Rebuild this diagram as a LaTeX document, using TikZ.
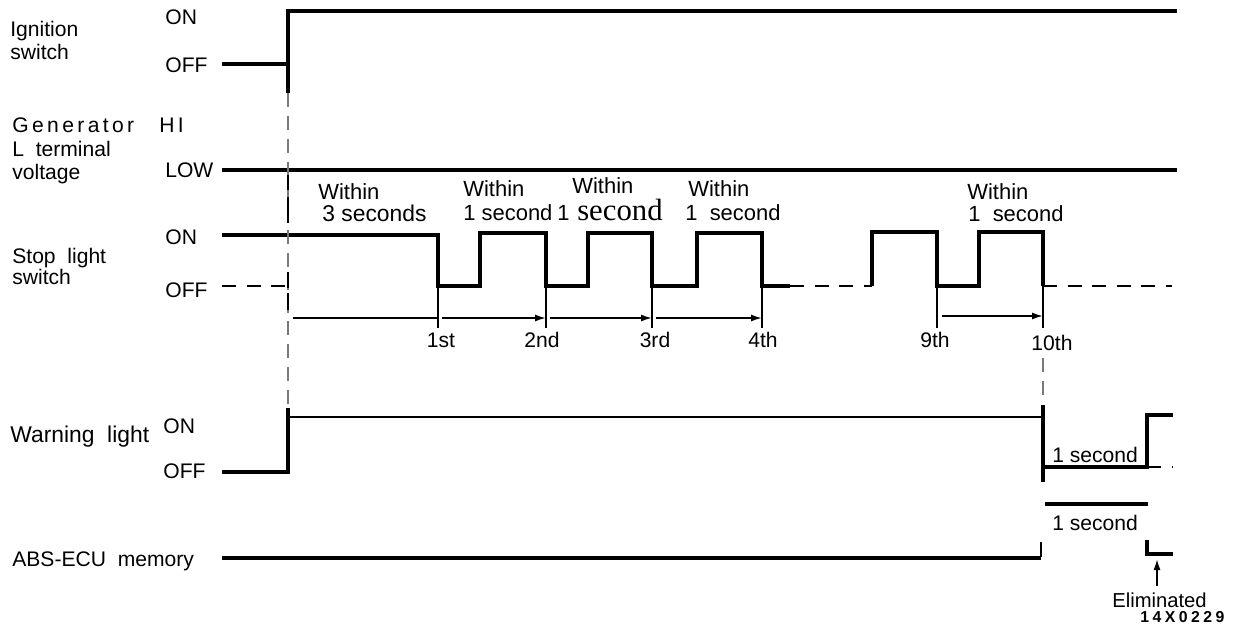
\documentclass[tikz,border=0pt]{standalone}
\usepackage{fontspec}
\setmainfont{Liberation Sans}
\newfontfamily\serifface{Liberation Serif}
\newfontfamily\spacedface[LetterSpace=16]{Liberation Sans}
\newfontfamily\codeface[LetterSpace=22]{Liberation Sans Bold}
\usetikzlibrary{arrows.meta}
\definecolor{guideGray}{HTML}{7A7A7A}

\begin{document}
\begin{tikzpicture}[
  x=0.02cm, y=-0.02cm,
  every node/.style={inner sep=0pt, font=\fontsize{12}{14}\selectfont},
  leftlbl/.style={anchor=base west},
  countlbl/.style={anchor=base},
  withinlbl/.style={anchor=base west, font=\fontsize{12.5}{14}\selectfont},
  wave/.style={line width=1.8pt},
  thinwave/.style={line width=1.3pt},
  offdash/.style={line width=1.4pt, dash pattern=on 8pt off 6pt},
  guide/.style={draw=guideGray, line width=0.6pt, dash pattern=on 8pt off 5pt},
  arrow/.style={-{Latex[length=2.2mm, width=1.4mm]}, line width=0.9pt}
]
 \useasboundingbox (0,0) rectangle (1237,628);

 % Ignition switch
 \node[leftlbl] (ignA) at (10,37) {Ignition};
 \node[leftlbl] (ignB) at (10,60) {switch};
 \node[leftlbl] (ignOn) at (165,25) {ON};
 \node[leftlbl] (ignOff) at (165,73) {OFF};
 \draw[wave] (222,64) -- (288,64);
 \draw[wave] (288,93) -- (288,11) -- (1177,11);

 % Generator L terminal voltage
 \node[leftlbl] (genA) at (12,133) {\spacedface Generator};
 \node[leftlbl] (genHi) at (159,133) {\spacedface HI};
 \node[leftlbl] (genB) at (12,157) {L\ \ terminal};
 \node[leftlbl] (genC) at (12,180) {voltage};
 \node[leftlbl] (genLow) at (165,178) {LOW};
 \draw[wave] (222,170) -- (1177,170);

 % Stop light switch
 \node[leftlbl] (stopA) at (12,263) {Stop\ \ light};
 \node[leftlbl] (stopB) at (12,284) {switch};
 \node[leftlbl] (stopOn) at (165,245) {ON};
 \node[leftlbl] (stopOff) at (165,297) {OFF};
 \draw[offdash] (222,286) -- (286,286);
 \draw[wave] (222,235) -| (438,286) -| (480,233) -| (546,286) -| (588,233)
   -| (652,286) -| (697,233) -| (762,286) -- (790,286);
 \draw[offdash] (790,286) -- (872,286);
 \draw[wave] (872,286) |- (937,232) |- (979,286) |- (1043,232) -- (1043,286);
 \draw[offdash] (1043,286) -- (1172,286);
 \foreach \x in {438,546,652,762,937,1043}
   \draw[thinwave] (\x,286) -- (\x,328);

 % Count points
 \coordinate (p0) at (293,318);
 \coordinate (p1) at (438,318);
 \coordinate (p2) at (546,318);
 \coordinate (p3) at (652,318);
 \coordinate (p4) at (762,318);
 \coordinate (p9) at (937,316);
 \coordinate (p10) at (1043,316);
 \draw[line width=0.9pt] (p0) -- (p1);
 \draw[arrow, shorten <=2pt] (p1) -- (p2);
 \draw[arrow, shorten <=2pt] (p2) -- (p3);
 \draw[arrow, shorten <=2pt] (p3) -- (p4);
 \draw[arrow, shorten <=3pt] (p9) -- (p10);
 \node[countlbl] (n1) at (441,347) {1st};
 \node[countlbl] (n2) at (542,347) {2nd};
 \node[countlbl] (n3) at (655,347) {3rd};
 \node[countlbl] (n4) at (763,347) {4th};
 \node[countlbl] (n9) at (935,347) {9th};
 \node[countlbl] (n10) at (1052,350) {10th};

 % Time limits
 \node[withinlbl] (w1a) at (318,200) {Within};
 \node[withinlbl, font=\fontsize{13}{14}\selectfont] (w1b) at (322,222) {3 seconds};
 \node[withinlbl] (w2a) at (463,197) {Within};
 \node[withinlbl] (w2b) at (463,221) {1 second};
 \node[withinlbl] (w3a) at (572,194) {Within};
 \node[withinlbl] (w3b) at (557,221) {1{\serifface\fontsize{17.5}{20}\selectfont\ second}};
 \node[withinlbl] (w4a) at (688,197) {Within};
 \node[withinlbl] (w4b) at (685,221) {1\ \ second};
 \node[withinlbl] (w5a) at (967,200) {Within};
 \node[withinlbl] (w5b) at (968,222) {1\ \ second};

 % Warning light
 \node[leftlbl, font=\fontsize{13}{15}\selectfont] (warnA) at (10,442) {Warning\ \ light};
 \node[leftlbl] (warnOn) at (163,433) {ON};
 \node[leftlbl] (warnOff) at (163,478) {OFF};
 \draw[wave] (222,472) -- (288,472) -- (288,408);
 \draw[line width=1.4pt] (288,417) -- (1043,417);
 \draw[wave] (1043,405) -- (1043,482);
 \draw[wave] (1043,467) -| (1147,415) -- (1173,415);
 \draw[offdash, line width=1pt] (1147,467) -- (1173,467);
 \node[leftlbl] (warnSec) at (1052,462) {1 second};

 % ABS-ECU memory
 \node[leftlbl] (absA) at (12,566) {ABS-ECU\ \ memory};
 \draw[wave] (222,558) -- (1041,558);
 \draw[thinwave] (1041,542) -- (1041,557);
 \draw[wave] (1045,504) -- (1148,504);
 \node[leftlbl] (absSec) at (1052,530) {1 second};
 \draw[wave] (1147,540) |- (1173,554);
 \coordinate (elimTip) at (1157,559);
 \node[leftlbl, font=\fontsize{11.5}{13}\selectfont] (elim) at (1112,607) {Eliminated};
 \node[leftlbl, font=\codeface\fontsize{9}{10}\selectfont] (code) at (1140,622) {14X0229};
 \draw[arrow] (elimTip |- elim.north) ++(0,-6) -- (elimTip);

 % Guide lines
 \draw[guide] (288,93) -- (288,408);
 \draw[line width=1.3pt] (288,175) -- (288,190) (288,197) -- (288,223);
 \draw[line width=1.3pt] (288,272) -- (288,288) (288,293) -- (288,310);
 \draw[guide] (1043,358) -- (1043,402);
\end{tikzpicture}
\end{document}
